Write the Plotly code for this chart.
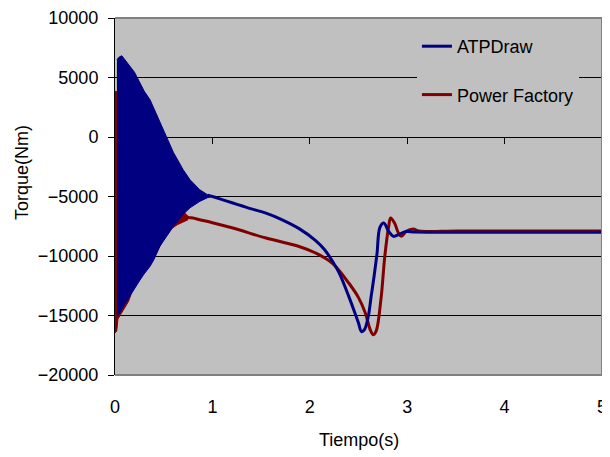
import plotly.graph_objects as go

# --- ATPDraw: oscillation envelope (0 - 1 s) and smooth part ---
atp_env_t = [0.02, 0.04, 0.07, 0.10, 0.15, 0.20, 0.25, 0.30, 0.36, 0.40, 0.46,
             0.53, 0.60, 0.70, 0.77, 0.87, 0.95, 1.00]
atp_env_hi = [6500, 6700, 6830, 6500, 6000, 5450, 4650, 3850, 3130, 2400, 1200,
              50, -1300, -2750, -3590, -4430, -4850, -5000]
atp_env_lo = [-15100, -14900, -14450, -14050, -13350, -12750, -12100, -11500, -10870,
              -10300, -9190, -8350, -7510, -6500, -5950, -5410, -5100, -5000]

atp_t = [0.95, 1.00, 1.10, 1.21, 1.30, 1.40, 1.55, 1.70, 1.89, 2.06, 2.15, 2.23,
         2.30, 2.40, 2.45, 2.50, 2.53, 2.56, 2.60, 2.63, 2.66, 2.69, 2.72, 2.76,
         2.81, 2.86, 2.91, 2.98, 3.08, 3.50, 4.00, 5.00]
atp_v = [-4900, -5000, -5260, -5550, -5780, -6040, -6400, -6900, -7700, -8700,
         -9450, -10400, -11400, -13390, -14500, -15630, -16350, -16200, -15100,
         -13390, -11700, -9800, -7600, -7230, -7930, -8350, -8210, -7950, -7980,
         -8000, -8000, -8000]

# --- Power Factory: oscillation envelope (0 - 0.75 s) and smooth part ---
pf_env_t = [0.0, 0.018, 0.03, 0.06, 0.10, 0.14, 0.20, 0.30, 0.40, 0.50, 0.58,
            0.64, 0.70, 0.75]
pf_env_hi = [3830, 3830, 1500, -1000, -2000, -3000, -4000, -5000, -5800, -6300,
             -6500, -6500, -6350, -6700]
pf_env_lo = [-16470, -16300, -15300, -14900, -14400, -13800, -12400, -11300,
             -10100, -8600, -7700, -7370, -7150, -6950]

pf_t = [0.70, 0.75, 0.80, 0.87, 1.00, 1.21, 1.55, 1.89, 2.06, 2.23, 2.40, 2.50,
        2.57, 2.62, 2.65, 2.68, 2.73, 2.77, 2.81, 2.83, 2.87, 2.91, 2.94, 2.99,
        3.06, 3.12, 3.50, 4.00, 5.00]
pf_v = [-6350, -6750, -6810, -6950, -7200, -7650, -8490, -9200, -9750, -10600,
        -12270, -13500, -14790, -16190, -16610, -16330, -13670, -10030, -7510,
        -6810, -7230, -8070, -8350, -7930, -7730, -7900, -7900, -7900, -7900]

BLUE = "#000080"
RED = "#800000"
FONT = "Liberation Sans, Arial, sans-serif"

fig = go.Figure()

# blue on xaxis2 so it sits above the red traces
fig.add_trace(go.Scatter(x=atp_env_t, y=atp_env_hi, mode="lines", xaxis="x2",
                         line=dict(color=BLUE, width=1), showlegend=False, hoverinfo="skip"))
fig.add_trace(go.Scatter(x=atp_env_t, y=atp_env_lo, mode="lines", xaxis="x2",
                         line=dict(color=BLUE, width=1), fill="tonexty", fillcolor=BLUE,
                         showlegend=False, hoverinfo="skip"))
fig.add_trace(go.Scatter(x=atp_t, y=atp_v, mode="lines", xaxis="x2", name="ATPDraw",
                         legendgroup="a", line=dict(color=BLUE, width=3, shape="spline")))

fig.add_trace(go.Scatter(x=pf_env_t, y=pf_env_hi, mode="lines",
                         line=dict(color=RED, width=1), showlegend=False, hoverinfo="skip"))
fig.add_trace(go.Scatter(x=pf_env_t, y=pf_env_lo, mode="lines",
                         line=dict(color=RED, width=1), fill="tonexty", fillcolor=RED,
                         showlegend=False, hoverinfo="skip"))
fig.add_trace(go.Scatter(x=pf_t, y=pf_v, mode="lines", name="Power Factory",
                         legendgroup="p", line=dict(color=RED, width=3, shape="spline")))

# page body has an 8px margin, so the figure is 8px smaller on each side
fig.update_layout(
    width=602, height=449,
    margin=dict(l=107, r=8, t=10, b=82, autoexpand=False),
    paper_bgcolor="white", plot_bgcolor="#C0C0C0",
    font=dict(family=FONT, size=18, color="black"),
    xaxis=dict(range=[0, 5], dtick=1, showgrid=False, zeroline=False, showline=False,
               ticks="outside", ticklen=15, tickcolor="rgba(0,0,0,0)", automargin=False,
               ticklabeloverflow="allow"),
    xaxis2=dict(range=[0, 5], dtick=1, overlaying="x", anchor="free", position=2 / 3,
                showgrid=False, zeroline=False, showline=True, linecolor="black",
                linewidth=1, ticks="outside", ticklen=6, tickcolor="black",
                showticklabels=False, layer="below traces", automargin=False),
    yaxis=dict(range=[-20000, 10000], dtick=5000, tickformat="d", showgrid=True,
               gridcolor="black", gridwidth=1, zeroline=False, showline=True,
               linecolor="black", linewidth=1, ticks="outside", ticklen=6,
               tickcolor="black", ticklabelstandoff=6, automargin=False),
    legend=dict(x=0.62, y=0.972, xanchor="left", yanchor="top",
                bgcolor="#C0C0C0", traceorder="grouped", tracegroupgap=22,
                font=dict(size=18)),
    showlegend=True,
)

# plot-area border (grey on top, right, bottom)
for x0, y0, x1, y1 in [(0, 1, 1, 1), (1, 0, 1, 1), (0, 0, 1, 0)]:
    fig.add_shape(type="line", xref="paper", yref="paper", x0=x0, y0=y0, x1=x1, y1=y1,
                  line=dict(color="#808080", width=2), layer="above")

fig.add_annotation(text="Torque(Nm)", textangle=-90, xref="paper", yref="paper",
                   x=0, y=0.566, xshift=-93, xanchor="center", yanchor="middle",
                   showarrow=False, font=dict(size=18))
fig.add_annotation(text="Tiempo(s)", xref="paper", yref="paper", x=0.5, y=0,
                   yshift=-65, xanchor="center", yanchor="middle",
                   showarrow=False, font=dict(size=18))

fig.write_html("out.html")
